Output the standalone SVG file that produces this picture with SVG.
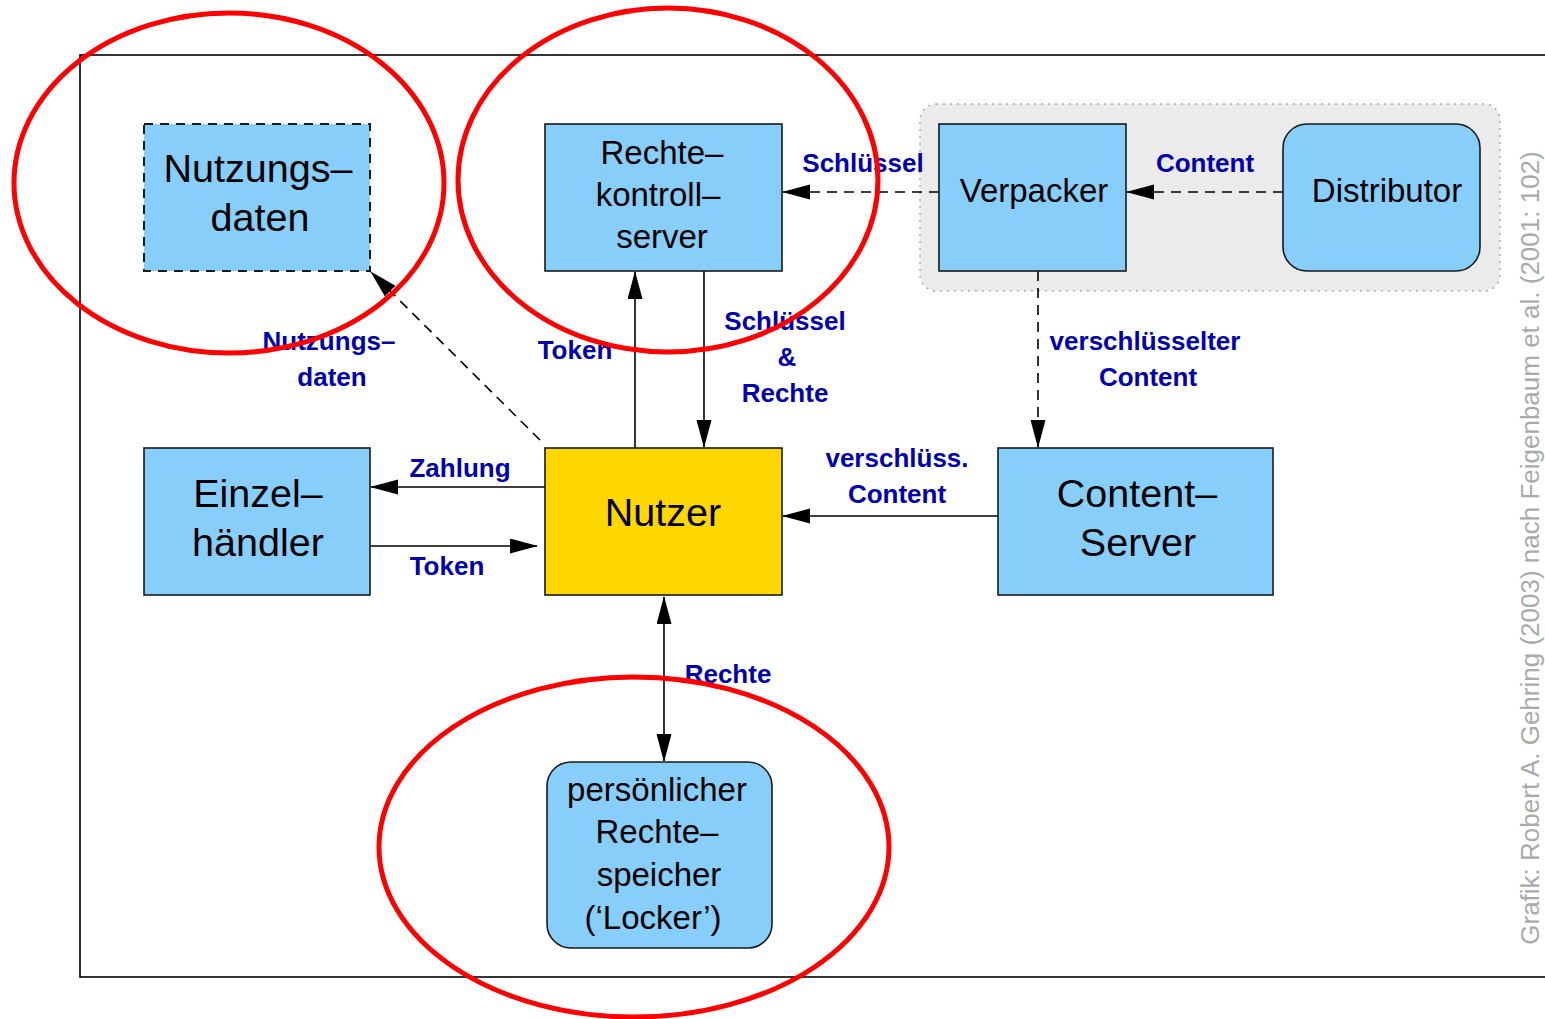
<svg xmlns="http://www.w3.org/2000/svg" width="1545" height="1019" viewBox="0 0 1545 1019">
<style>
.box{fill:#87cefa;stroke:#1a1a1a;stroke-width:1.6}
.nt{font-family:"Liberation Sans",Arial,sans-serif;fill:#000;text-anchor:middle}
.big{font-size:39.5px}
.sm{font-size:33px}
.lbl{font-family:"Liberation Sans",Arial,sans-serif;font-weight:bold;font-size:26px;fill:#0000b0;text-anchor:middle}
.c{fill:none;stroke:#000;stroke-width:1.6}
.d{stroke-dasharray:10,7}
.red{fill:none;stroke:#ff0000;stroke-width:5}
</style>
<defs>
<marker id="ah" markerUnits="userSpaceOnUse" markerWidth="28" markerHeight="16" refX="27" refY="7.5" orient="auto">
<path d="M0,0 L28,7.5 L0,15 z" fill="#000"/>
</marker>
<marker id="ahs" markerUnits="userSpaceOnUse" markerWidth="28" markerHeight="16" refX="27" refY="7.5" orient="auto-start-reverse">
<path d="M0,0 L28,7.5 L0,15 z" fill="#000"/>
</marker>
</defs>
<rect x="80" y="55" width="1500" height="922" fill="#fff" stroke="#000" stroke-width="1.6"/>
<g id="group-verpackung">
<rect x="920" y="104" width="580" height="187" rx="16" fill="#ebebeb" stroke="#aaa" stroke-width="1.5" stroke-dasharray="2,5"/>
</g>
<g id="connectors">
<line class="c" x1="635" y1="448" x2="635" y2="272" marker-end="url(#ah)"/>
<line class="c" x1="704" y1="271" x2="704" y2="447" marker-end="url(#ah)"/>
<line class="c d" x1="939" y1="192" x2="783" y2="192" marker-end="url(#ah)"/>
<line class="c d" x1="1283" y1="192" x2="1127" y2="192" marker-end="url(#ah)"/>
<line class="c d" x1="1038" y1="271" x2="1038" y2="447" marker-end="url(#ah)"/>
<line class="c" x1="998" y1="516" x2="783" y2="516" marker-end="url(#ah)"/>
<line class="c" x1="545" y1="487" x2="371" y2="487" marker-end="url(#ah)"/>
<line class="c" x1="370" y1="546" x2="537" y2="546" marker-end="url(#ah)"/>
<line class="c" x1="664" y1="597" x2="664" y2="761" marker-start="url(#ahs)" marker-end="url(#ah)"/>
<line class="c d" x1="540" y1="440" x2="371" y2="272" marker-end="url(#ah)"/>
<text class="lbl" x="863" y="172">Schlüssel</text>
<text class="lbl" x="1205" y="172">Content</text>
<text class="lbl" x="329" y="350">Nutzungs–</text>
<text class="lbl" x="332" y="386">daten</text>
<text class="lbl" x="575" y="359">Token</text>
<text class="lbl" x="785" y="330">Schlüssel</text>
<text class="lbl" x="787" y="366">&amp;</text>
<text class="lbl" x="785" y="402">Rechte</text>
<text class="lbl" x="1145" y="350">verschlüsselter</text>
<text class="lbl" x="1148" y="386">Content</text>
<text class="lbl" x="460" y="477">Zahlung</text>
<text class="lbl" x="447" y="575">Token</text>
<text class="lbl" x="897" y="467">verschlüss.</text>
<text class="lbl" x="897" y="503">Content</text>
<text class="lbl" x="728" y="683">Rechte</text>
</g>
<g id="nutzungsdaten">
<rect x="144" y="124" width="226" height="147" fill="#87cefa" stroke="#1a1a1a" stroke-width="2" stroke-dasharray="9,7"/>
<text class="nt big" x="258" y="182">Nutzungs–</text>
<text class="nt big" x="260" y="231">daten</text>
</g>
<g id="rechtekontrollserver">
<rect class="box" x="545" y="124" width="237" height="147"/>
<text class="nt sm" x="662" y="164">Rechte–</text>
<text class="nt sm" x="658" y="206">kontroll–</text>
<text class="nt sm" x="662" y="248">server</text>
</g>
<g id="verpacker">
<rect class="box" x="939" y="124" width="187" height="147"/>
<text class="nt sm" x="1034" y="202">Verpacker</text>
</g>
<g id="distributor">
<rect class="box" x="1283" y="124" width="197" height="147" rx="24"/>
<text class="nt sm" x="1387" y="202">Distributor</text>
</g>
<g id="einzelhaendler">
<rect class="box" x="144" y="448" width="226" height="147"/>
<text class="nt big" x="258" y="507">Einzel–</text>
<text class="nt big" x="258" y="556">händler</text>
</g>
<g id="nutzer">
<rect x="545" y="448" width="237" height="147" fill="#ffd700" stroke="#1a1a1a" stroke-width="1.6"/>
<text class="nt big" x="663" y="526">Nutzer</text>
</g>
<g id="content-server">
<rect class="box" x="998" y="448" width="275" height="147"/>
<text class="nt big" x="1137" y="507">Content–</text>
<text class="nt big" x="1138" y="556">Server</text>
</g>
<g id="locker">
<rect class="box" x="547" y="762" width="225" height="186" rx="24"/>
<text class="nt sm" x="657" y="801">persönlicher</text>
<text class="nt sm" x="657" y="843">Rechte–</text>
<text class="nt sm" x="659" y="886">speicher</text>
<text class="nt sm" x="653" y="929">(‘Locker’)</text>
</g>
<g id="credit">
<text transform="translate(1539,548) rotate(-90)" font-family="Liberation Sans,Arial,sans-serif" font-size="26" fill="#aaaaaa" text-anchor="middle">Grafik: Robert A. Gehring (2003) nach Feigenbaum et al. (2001: 102)</text>
</g>
<g id="highlights">
<ellipse class="red" cx="229" cy="183" rx="215" ry="170"/>
<ellipse class="red" cx="668" cy="180" rx="210" ry="172"/>
<ellipse class="red" cx="634" cy="847" rx="255" ry="170"/>
</g>
</svg>
